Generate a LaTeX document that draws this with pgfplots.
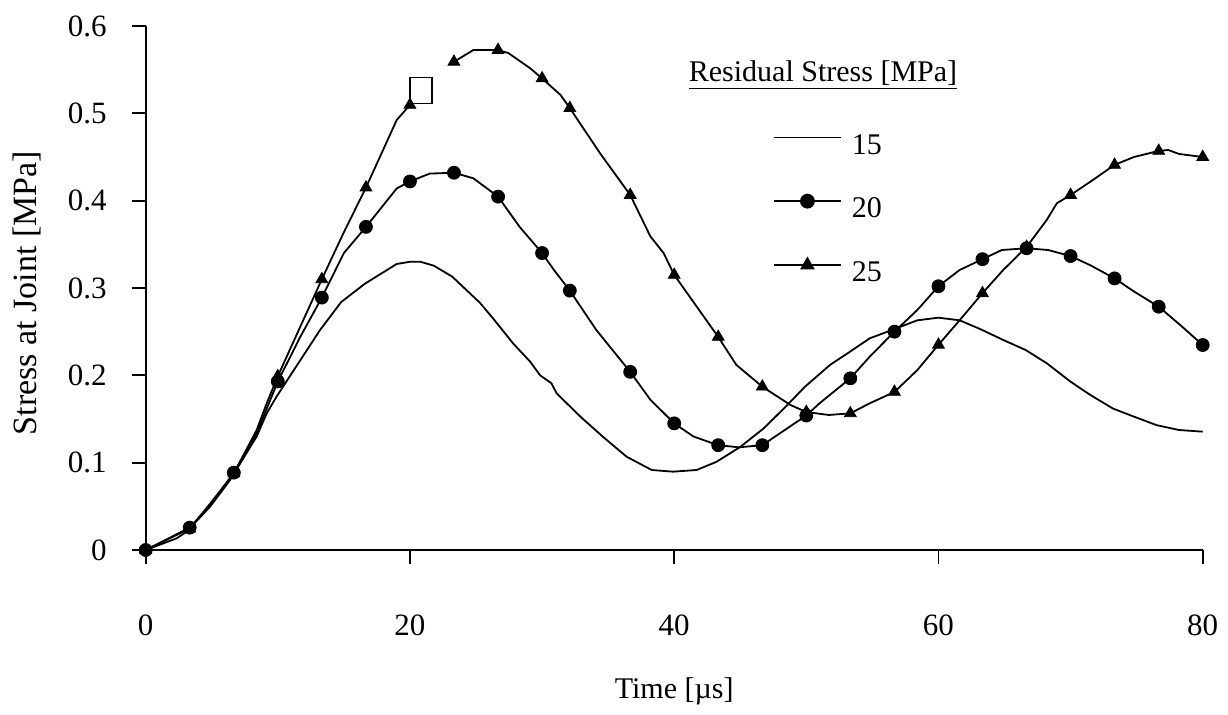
\documentclass[border=0pt]{standalone}
\usepackage{fontspec}
\setmainfont{Liberation Serif}
\usepackage{pgfplots}
\pgfplotsset{compat=1.18}
\begin{document}
\begin{tikzpicture}
\begin{axis}[
  name=ax,
  scale only axis, width=528.5pt, height=262pt,
  xmin=0, xmax=80, ymin=0, ymax=0.6,
  axis lines=left, axis line style={-, line width=1pt},
  xtick={0,20,40,60,80}, ytick={0,0.1,0.2,0.3,0.4,0.5,0.6},
  tick align=outside, major tick length=7pt,
  tick style={black, line width=0.9pt},
  /pgf/number format/assume math mode=true,
  ticklabel style={font=\fontsize{15.5}{18}\selectfont},
  yticklabel style={inner sep=0pt, anchor=east, xshift=-12.35pt},
  xticklabel style={inner sep=0pt, anchor=north, yshift=-25pt},
  xlabel={Time [µs]}, ylabel={Stress at Joint [MPa]},
  every axis x label/.style={at={(axis description cs:0.5,0)}, anchor=center, yshift=-70.85pt, font=\fontsize{15}{18}\selectfont},
  every axis y label/.style={at={(axis description cs:0,0.5)}, rotate=90, anchor=center, yshift=59.35pt, xshift=-2.5pt, font=\fontsize{17}{20}\selectfont},
  unbounded coords=jump,
  clip=false,
  legend style={draw=none, fill=none, inner sep=0pt, outer sep=0pt,
    at={(rel axis cs:0.5935,0.7976)}, anchor=north west,
    font=\fontsize{15}{18}\selectfont,
    nodes={inner sep=0pt, text height=11pt, text depth=0pt},
    row sep=20.3pt, column sep=5pt},
  legend cell align=left,
  legend image code/.code={\draw[mark repeat=2,mark phase=2] plot coordinates {(0pt,2.8pt) (16.75pt,2.8pt) (33.5pt,2.8pt)};},
]
% series 15
\addplot[black, line width=0.9pt, forget plot] coordinates {
(0,0) (2.35,0.0134) (3.1,0.021) (4.87,0.0496) (6.38,0.080) (8.4,0.130) (9.16,0.1565) (9.9,0.1755)
(11.55,0.2138) (13.2,0.252) (14.8,0.284) (16.6,0.305) (19.0,0.3275) (20.0,0.330) (20.8,0.330)
(21.8,0.3256) (23.2,0.313) (25.3,0.283) (26.3,0.265) (27.8,0.2367) (29.1,0.2156) (29.85,0.200)
(30.7,0.191) (31.1,0.1794) (32.9,0.1527) (34.6,0.1297) (36.4,0.1068) (38.3,0.0916) (39.9,0.0897)
(41.7,0.0916) (43.2,0.101) (45.0,0.118) (46.75,0.139) (48.3,0.162) (49.9,0.187) (51.8,0.212)
(53.1,0.225) (54.8,0.2424) (56.5,0.252) (58.4,0.263) (60.0,0.266) (61.6,0.263) (63.2,0.2527)
(64.9,0.2405) (66.6,0.229) (68.2,0.2138) (70.0,0.1927) (71.5,0.1775) (73.2,0.162) (74.8,0.1527)
(76.5,0.143) (78.2,0.1374) (80,0.1355)};
% series 20 line
\addplot[black, line width=0.9pt, forget plot] coordinates {
(0,0) (3.33,0.0256) (4.9,0.051) (6.67,0.0886) (8.4,0.1336) (10,0.193) (11.7,0.244) (13.33,0.289)
(15.0,0.340) (16.67,0.370) (19.0,0.414) (20,0.422) (21.5,0.431) (23.33,0.432) (24.8,0.4256)
(26.67,0.4046) (28.3,0.370) (30,0.340) (30.9,0.3206) (32.1,0.297) (34.1,0.252) (36.67,0.204)
(38.2,0.172) (40,0.145) (41.45,0.130) (43.33,0.120) (44.9,0.1176) (46.67,0.120) (48.0,0.1336)
(50,0.154) (51.0,0.168) (53.33,0.1966) (54.8,0.2214) (56.67,0.250) (58.4,0.2748) (60,0.302)
(61.6,0.3206) (63.33,0.333) (64.8,0.3435) (66.67,0.3455) (68.3,0.3435) (70,0.3366) (71.5,0.326)
(73.33,0.311) (74.8,0.296) (76.67,0.2786) (78.3,0.2576) (80,0.2347)};
% series 20 marks
\addplot[black, only marks, mark=*, mark size=3.25pt, forget plot] coordinates {
(0,0) (3.33,0.0256) (6.67,0.0886) (10,0.193) (13.33,0.289) (16.67,0.370) (20,0.422) (23.33,0.432)
(26.67,0.4046) (30,0.340) (32.1,0.297) (36.67,0.204) (40,0.145) (43.33,0.120) (46.67,0.120)
(50,0.154) (53.33,0.1966) (56.67,0.250) (60,0.302) (63.33,0.333) (66.67,0.3455) (70,0.3366)
(73.33,0.311) (76.67,0.2786) (80,0.2347)};
% series 25 line
\addplot[black, line width=0.9pt, forget plot] coordinates {
(0,0) (3.33,0.0245) (4.9,0.0535) (6.67,0.0877) (8.4,0.1374) (9.16,0.168) (10,0.199) (11.7,0.2557)
(13.33,0.310) (14.96,0.3626) (16.67,0.415) (19.0,0.4924) (20,0.5096) (21.5,nan)
(23.33,0.559) (24.8,0.5725) (26.67,0.5725) (27.45,0.569) (29.1,0.5516) (30,0.540) (31.4,0.521)
(32.1,0.506) (34.4,0.454) (36.67,0.4065) (38.2,0.359) (39.2,0.340) (40,0.315) (43.33,0.244)
(44.7,0.212) (46.67,0.187) (48.8,0.166) (50,0.158) (51.7,0.1546) (53.33,0.1565) (54.8,0.168)
(56.67,0.181) (58.4,0.206) (60,0.235) (61.6,0.263) (63.33,0.294) (64.9,0.3206) (66.67,0.347)
(68.2,0.378) (68.96,0.397) (70,0.4065) (71.5,0.4217) (73.33,0.441) (74.8,0.450) (76.67,0.457)
(77.4,0.458) (78.2,0.4535) (80,0.450)};
% series 25 marks
\addplot[black, only marks, mark=triangle*, mark size=3.4pt, forget plot] coordinates {
(0,0) (3.33,0.0245) (6.67,0.0877) (10,0.199) (13.33,0.310) (16.67,0.415) (20,0.5096)
(23.33,0.559) (26.67,0.5725) (30,0.540) (32.1,0.506) (36.67,0.4065) (40,0.315) (43.33,0.244)
(46.67,0.187) (50,0.158) (53.33,0.1565) (56.67,0.181) (60,0.235) (63.33,0.294) (66.67,0.347)
(70,0.4065) (73.33,0.441) (76.67,0.457) (80,0.450)};
% open square marker
\addplot[black, only marks, mark=square, mark size=5.5pt, mark options={yscale=1.18, line width=0.8pt}, forget plot] coordinates {(20.85,0.526)};
% legend
\addlegendimage{black, line width=0.9pt}
\addlegendentry{15}
\addlegendimage{black, line width=0.9pt, mark=*, mark size=3.25pt}
\addlegendentry{20}
\addlegendimage{black, line width=0.9pt, mark=triangle*, mark size=3.4pt}
\addlegendentry{25}
\node[anchor=base, font=\fontsize{15}{18}\selectfont, inner sep=0pt] at (rel axis cs:0.6408,0.8937) {\underline{Residual Stress [MPa]}};
\end{axis}
\pgfresetboundingbox
\path ([shift={(-72.85pt,-82.5pt)}]ax.south west) rectangle ([shift={(12.65pt,13pt)}]ax.north east);
\end{tikzpicture}
\end{document}
